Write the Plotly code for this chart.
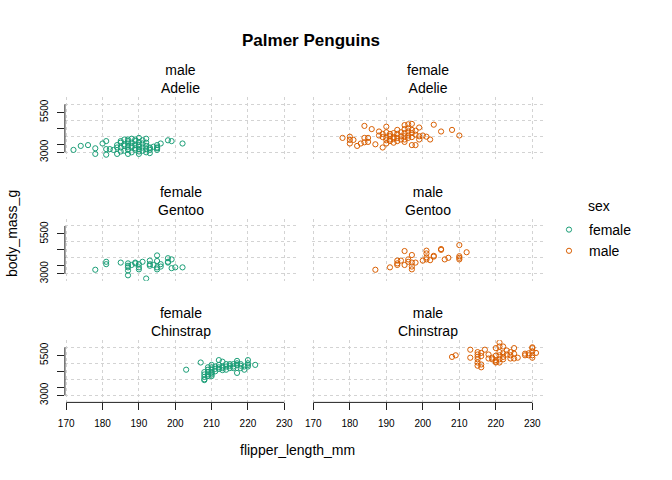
import plotly.graph_objects as go

# panel data (flipper_length_mm, body_mass_g)
adelie_f_flipper = [172, 174, 176, 178, 178, 180, 181, 181, 181, 182, 183, 184, 184, 184,
                    185, 185, 185, 185, 186, 186, 186, 186, 187, 187, 187, 187, 187, 187,
                    188, 188, 188, 188, 188, 189, 189, 189, 189, 189, 190, 190, 190, 190,
                    190, 190, 190, 191, 191, 191, 191, 192, 192, 192, 192, 192, 193, 193,
                    193, 193, 194, 195, 195, 195, 195, 196, 198, 199, 202]
adelie_f_mass = [3150, 3400, 3450, 3250, 2900, 3550, 3200, 2850, 3700, 3200, 3150, 2900, 3300, 3450,
                 3050, 3300, 3600, 3700, 3100, 3400, 3500, 3800, 2900, 3150, 3350, 3550, 3700, 3800,
                 3000, 3300, 3400, 3600, 3850, 3150, 3250, 3450, 3700, 3800, 2900, 3050, 3200, 3350,
                 3450, 3650, 3900, 3100, 3300, 3550, 3750, 3000, 3200, 3400, 3600, 3850, 2950, 3150,
                 3250, 3300, 3350, 3250, 3300, 3450, 3150, 3550, 3750, 3700, 3550]

adelie_m_flipper = [178, 180, 180, 180, 181, 182, 183, 184, 184, 184, 185, 185, 186, 187,
                    188, 188, 189, 189, 189, 190, 190, 190, 190, 190, 191, 191, 191, 191,
                    192, 192, 192, 192, 193, 193, 193, 193, 194, 194, 194, 195, 195, 195,
                    195, 195, 195, 196, 196, 196, 196, 196, 197, 197, 197, 197, 197, 198,
                    198, 198, 199, 199, 199, 200, 201, 202, 203, 205, 208, 210]
adelie_m_mass = [3900, 3975, 3775, 3550, 3775, 3400, 3550, 3900, 3625, 4650, 3900, 3650, 4450, 3500,
                 4300, 4050, 3300, 3950, 4150, 3550, 3750, 3900, 4250, 4600, 3700, 3800, 4000, 4150,
                 3600, 3850, 3950, 4200, 3700, 3900, 4150, 4400, 3800, 4000, 4250, 3650, 3800, 4000,
                 4200, 4450, 4700, 3900, 4050, 4300, 4500, 4750, 3450, 3950, 4200, 4400, 4775, 3450,
                 4100, 4350, 4000, 3800, 4550, 4050, 3975, 3800, 4725, 4300, 4400, 4050]

chinstrap_f_flipper = [178, 181, 181, 185, 187, 187, 187, 187, 187, 188, 189, 189, 190, 190,
                       190, 191, 192, 193, 193, 193, 194, 195, 195, 195, 195, 196, 196, 198,
                       198, 198, 199, 199, 200, 202]
chinstrap_f_mass = [3250, 3750, 3600, 3700, 3650, 3400, 3200, 2900, 3500, 3550, 3700, 3650, 3600, 3400,
                    3275, 3750, 2700, 3825, 3600, 3500, 3550, 4150, 3800, 3275, 3400, 3600, 3450, 3975,
                    3750, 3700, 3900, 3350, 3400, 3400]

chinstrap_m_flipper = [187, 191, 193, 193, 193, 194, 195, 195, 196, 196, 197, 197, 197, 197,
                       198, 200, 201, 201, 201, 201, 202, 203, 203, 205, 205, 206, 207, 210,
                       210, 210, 210, 212]
chinstrap_m_mass = [3250, 3400, 3825, 3650, 3550, 3825, 4425, 3550, 3900, 3750, 4175, 3700, 3450, 3275,
                    3700, 3825, 4450, 4275, 4025, 3900, 3850, 4075, 4125, 4550, 4500, 3900, 4000, 4800,
                    4100, 4000, 3900, 4350]

gentoo_f_flipper = [203, 207, 208, 208, 208, 208, 208, 209, 209, 209, 209, 209, 210, 210,
                    210, 210, 210, 210, 210, 211, 211, 211, 212, 212, 212, 212, 213, 213,
                    213, 213, 214, 214, 214, 215, 215, 215, 216, 216, 216, 217, 217, 217,
                    217, 218, 218, 218, 219, 219, 220, 220, 220, 220, 222]
gentoo_f_mass = [4600, 5050, 4450, 4300, 4150, 4000, 3950, 4750, 4600, 4450, 4300, 4200, 4900, 4750,
                 4600, 4450, 4300, 4200, 4400, 4800, 4500, 4650, 5200, 4900, 4650, 4750, 5100, 4800,
                 4575, 4700, 4800, 4600, 4950, 4950, 4700, 4850, 4950, 4800, 4700, 5150, 4900, 4400,
                 5000, 4950, 4700, 4850, 4800, 4600, 5200, 4800, 5000, 4900, 4900]

gentoo_m_flipper = [208, 209, 213, 213, 215, 215, 215, 215, 215, 215, 216, 216, 216, 216,
                    217, 218, 218, 219, 219, 220, 220, 220, 220, 220, 221, 221, 221, 221,
                    221, 221, 222, 222, 222, 222, 223, 223, 224, 224, 224, 225, 225, 225,
                    226, 228, 228, 229, 229, 230, 230, 230, 230, 230, 231]
gentoo_m_mass = [5400, 5500, 5850, 5350, 5700, 5550, 5400, 5250, 5050, 4850, 4925, 4750, 5650, 5450,
                 5850, 5550, 5300, 5350, 5250, 5200, 5050, 5950, 5475, 5100, 6300, 6050, 5700, 5500,
                 5250, 5050, 6050, 5625, 5400, 5250, 5800, 5550, 5700, 5500, 5300, 5950, 5600, 5300,
                 5350, 5500, 5600, 5625, 5500, 5950, 5750, 5500, 6000, 5350, 5650]

panel_titles = ["male<br>Adelie", "female<br>Adelie",
                "female<br>Gentoo", "male<br>Gentoo",
                "female<br>Chinstrap", "male<br>Chinstrap"]
panel_sex = ["female", "male", "female", "male", "female", "male"]
panel_x = [adelie_f_flipper, adelie_m_flipper, chinstrap_f_flipper,
           chinstrap_m_flipper, gentoo_f_flipper, gentoo_m_flipper]
panel_y = [adelie_f_mass, adelie_m_mass, chinstrap_f_mass,
           chinstrap_m_mass, gentoo_f_mass, gentoo_m_mass]

x_ticks = [170, 180, 190, 200, 210, 220, 230]
y_ticks = [3000, 3500, 4000, 4500, 5000, 5500, 6000]
y_ticktext = ["3000", "", "", "", "", "5500", ""]
y_grid = [3000, 4000, 5000, 6000]

colors = {"female": "#1B9E77", "male": "#D95F02"}
FONT = "Liberation Sans, Arial, sans-serif"
GRID = "#D3D3D3"
W, H = 672, 480
col_px = [(64.9, 296.5), (312.0, 544.6)]
row_px = [(97.2, 159.4), (218.9, 280.8), (340.2, 402.4)]

fig = go.Figure()
shown = set()
layout = {}
annotations = []
shapes = []

for i in range(6):
    r, c = divmod(i, 2)
    n = i + 1
    sfx = "" if n == 1 else str(n)
    sex = panel_sex[i]
    fig.add_trace(go.Scatter(
        x=panel_x[i], y=panel_y[i], xaxis="x" + sfx, yaxis="y" + sfx,
        mode="markers", name=sex, legendgroup=sex,
        showlegend=sex not in shown,
        marker=dict(symbol="circle-open", size=5.2, color=colors[sex],
                    line=dict(width=1)),
    ))
    shown.add(sex)

    xdom = [col_px[c][0] / W, col_px[c][1] / W]
    ydom = [1 - row_px[r][1] / H, 1 - row_px[r][0] / H]
    bottom = r == 2
    left = c == 0

    layout["xaxis" + sfx] = dict(
        domain=xdom, anchor="y" + sfx, range=[169.64, 233.36],
        tickvals=x_ticks, showticklabels=bottom,
        ticks="outside" if bottom else "", ticklen=7, tickcolor="#222",
        ticklabelstandoff=5,
        tickfont=dict(size=10, color="#000"),
        showgrid=True, gridcolor=GRID, griddash="dot", gridwidth=1,
        zeroline=False, showline=False, automargin=False,
    )
    if left:
        ya = dict(
            tickvals=y_ticks, ticktext=y_ticktext, ticks="outside", ticklen=7,
            tickcolor="#222", tickangle=-90, tickfont=dict(size=10, color="#000"),
            ticklabelstandoff=5,
            showgrid=False,
            minor=dict(tickmode="array", tickvals=y_grid, ticks="inside", ticklen=0,
                       showgrid=True, gridcolor=GRID, griddash="dot", gridwidth=1),
        )
    else:
        ya = dict(tickvals=y_grid, showticklabels=False, ticks="",
                  showgrid=True, gridcolor=GRID, griddash="dot", gridwidth=1)
    ya.update(domain=ydom, anchor="x" + sfx, range=[2556, 6444],
              zeroline=False, showline=False, automargin=False)
    layout["yaxis" + sfx] = ya

    # R-style axis lines that only span the tick range
    if left:
        shapes.append(dict(type="line", xref="x" + sfx + " domain", yref="y" + sfx,
                           x0=0, x1=0, y0=y_ticks[0], y1=y_ticks[-1],
                           line=dict(color="#222", width=1)))
    if bottom:
        shapes.append(dict(type="line", xref="x" + sfx, yref="y" + sfx + " domain",
                           x0=x_ticks[0], x1=x_ticks[-1], y0=0, y1=0,
                           line=dict(color="#222", width=1)))

    annotations.append(dict(
        text=panel_titles[i], xref="paper", yref="paper",
        x=(xdom[0] + xdom[1]) / 2, y=1 - (row_px[r][0] + 1) / H,
        xanchor="center", yanchor="bottom", showarrow=False,
        font=dict(size=14, color="#000"),
    ))

annotations += [
    dict(text="body_mass_g", xref="paper", yref="paper", x=12 / W, y=1 - 234 / H,
         xanchor="center", yanchor="middle",
         textangle=-90, showarrow=False, font=dict(size=14, color="#000")),
    dict(text="flipper_length_mm", xref="paper", yref="paper", x=297 / W, y=1 - 450 / H,
         xanchor="center", yanchor="middle",
         showarrow=False, font=dict(size=14, color="#000")),
    dict(text="sex", xref="paper", yref="paper", x=586 / W, y=1 - 206 / H,
         xanchor="left", yanchor="middle", showarrow=False, font=dict(size=14, color="#000")),
]

fig.update_layout(
    width=W, height=H,
    margin=dict(l=0, r=0, t=0, b=0, autoexpand=False),
    paper_bgcolor="white", plot_bgcolor="white",
    font=dict(family=FONT, color="#000"),
    title=dict(text="<b>Palmer Penguins</b>", x=311 / W, y=1 - 40 / H,
               xanchor="center", yanchor="middle", font=dict(size=17)),
    legend=dict(x=549 / W, y=1 - 214 / H, xanchor="left", yanchor="top",
                font=dict(size=14), bgcolor="rgba(0,0,0,0)", tracegroupgap=0),
    annotations=annotations,
    shapes=shapes,
    **layout,
)

# the page body has a default 8px margin; drop it so the figure sits at 0,0
fig.write_html("out.html", config={"displayModeBar": False},
               post_script="document.body.style.margin = '0';")
